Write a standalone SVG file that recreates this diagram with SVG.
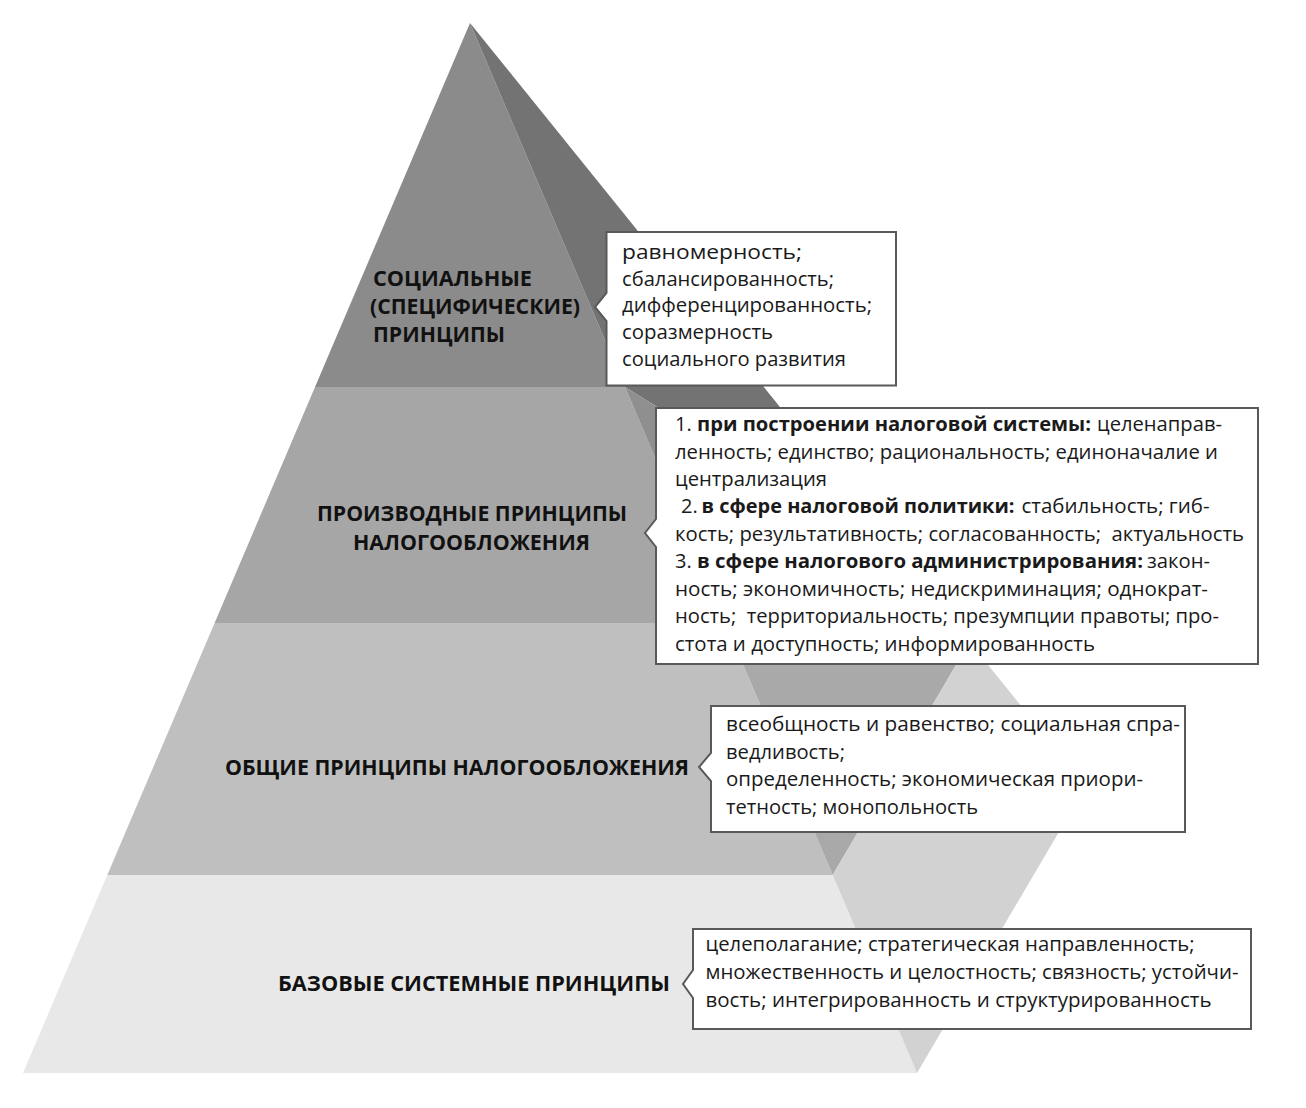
<svg xmlns="http://www.w3.org/2000/svg" width="1306" height="1108" viewBox="0 0 1306 1108">
<style>
  .lbl { font-family: "Open Sans", "Noto Sans", "Liberation Sans", sans-serif; font-weight: 700; font-size: 22px; fill: #111; }
  .t { font-family: "Open Sans", "Noto Sans", "Liberation Sans", sans-serif; font-size: 20px; fill: #1a1a1a; white-space: pre; }
  .b { font-weight: 700; }
  .box { fill: #fff; stroke: #595959; stroke-width: 2; }
</style>
<rect width="1306" height="1108" fill="#fff"/>

<g id="tier1">
  <polygon points="470,23 315,387 625,387" fill="#8b8b8b"/>
  <polygon points="470,23 903.4,560 625,387" fill="#737373"/>
  <text class="lbl" x="373" y="286" textLength="159" lengthAdjust="spacingAndGlyphs">СОЦИАЛЬНЫЕ</text>
  <text class="lbl" x="370" y="314" textLength="210" lengthAdjust="spacingAndGlyphs">(СПЕЦИФИЧЕСКИЕ)</text>
  <text class="lbl" x="373" y="342" textLength="132" lengthAdjust="spacingAndGlyphs">ПРИНЦИПЫ</text>
</g>

<g id="tier2">
  <polygon points="315,387 214.6,623 725.4,623 625,387" fill="#a6a6a6"/>
  <polygon points="625,387 903.4,560 935.6,600 725.4,623" fill="#8f8f8f"/>
  <text class="lbl" x="317" y="521" textLength="310" lengthAdjust="spacingAndGlyphs">ПРОИЗВОДНЫЕ ПРИНЦИПЫ</text>
  <text class="lbl" x="353" y="549.5" textLength="237" lengthAdjust="spacingAndGlyphs">НАЛОГООБЛОЖЕНИЯ</text>
</g>

<g id="tier3">
  <polygon points="214.6,623 107.3,875 832.7,875 725.4,623" fill="#bfbfbf"/>
  <polygon points="725.4,623 935.6,600 969.5,642 832.7,875" fill="#a9a9a9"/>
  <text class="lbl" x="225" y="775" textLength="464" lengthAdjust="spacingAndGlyphs">ОБЩИЕ ПРИНЦИПЫ НАЛОГООБЛОЖЕНИЯ</text>
</g>

<g id="tier4">
  <polygon points="107.3,875 23,1073 917,1073 832.7,875" fill="#e8e8e8"/>
  <polygon points="832.7,875 969.5,642 1086,786 917,1073" fill="#d2d2d2"/>
  <text class="lbl" x="278" y="990.5" textLength="392" lengthAdjust="spacingAndGlyphs">БАЗОВЫЕ СИСТЕМНЫЕ ПРИНЦИПЫ</text>
</g>

<g id="connectors"></g>

<g id="callout1">
  <path class="box" d="M606.5,232 H896 V385.5 H606.5 V321 L595,307 L606.5,293 Z"/>
  <text class="t" x="622" y="259" textLength="180" lengthAdjust="spacingAndGlyphs">равномерность;</text>
  <text class="t" x="622" y="285.7" textLength="212" lengthAdjust="spacingAndGlyphs">сбалансированность;</text>
  <text class="t" x="622" y="312.4" textLength="250" lengthAdjust="spacingAndGlyphs">дифференцированность;</text>
  <text class="t" x="622" y="339" textLength="151" lengthAdjust="spacingAndGlyphs">соразмерность</text>
  <text class="t" x="622" y="365.7" textLength="224" lengthAdjust="spacingAndGlyphs">социального развития</text>
</g>

<g id="callout2">
  <path class="box" d="M656,408 H1258 V664 H656 V547 L645,533 L656,519 Z"/>
  <text class="t" x="675" y="431">1.</text>
  <text class="t b" x="697" y="431" textLength="394" lengthAdjust="spacingAndGlyphs">при построении налоговой системы:</text>
  <text class="t" x="1097" y="431" textLength="125" lengthAdjust="spacingAndGlyphs">целенаправ-</text>
  <text class="t" x="675" y="458.5" textLength="543" lengthAdjust="spacingAndGlyphs">ленность; единство; рациональность; единоначалие и</text>
  <text class="t" x="675" y="486" textLength="152" lengthAdjust="spacingAndGlyphs">централизация</text>
  <text class="t" x="681" y="513.4">2.</text>
  <text class="t b" x="701.5" y="513.4" textLength="313" lengthAdjust="spacingAndGlyphs">в сфере налоговой политики:</text>
  <text class="t" x="1021.5" y="513.4" textLength="188" lengthAdjust="spacingAndGlyphs">стабильность; гиб-</text>
  <text class="t" x="675" y="540.8" textLength="569" lengthAdjust="spacingAndGlyphs">кость; результативность; согласованность;  актуальность</text>
  <text class="t" x="675" y="568.3">3.</text>
  <text class="t b" x="697" y="568.3" textLength="446" lengthAdjust="spacingAndGlyphs">в сфере налогового администрирования:</text>
  <text class="t" x="1147" y="568.3" textLength="63" lengthAdjust="spacingAndGlyphs">закон-</text>
  <text class="t" x="675" y="595.7" textLength="533" lengthAdjust="spacingAndGlyphs">ность; экономичность; недискриминация; однократ-</text>
  <text class="t" x="675" y="623.2" textLength="544" lengthAdjust="spacingAndGlyphs">ность;  территориальность; презумпции правоты; про-</text>
  <text class="t" x="675" y="650.6" textLength="420" lengthAdjust="spacingAndGlyphs">стота и доступность; информированность</text>
</g>

<g id="callout3">
  <path class="box" d="M711,706 H1185 V832 H711 V781 L699,767 L711,753 Z"/>
  <text class="t" x="726" y="731" textLength="454" lengthAdjust="spacingAndGlyphs">всеобщность и равенство; социальная спра-</text>
  <text class="t" x="726" y="758.5" textLength="119" lengthAdjust="spacingAndGlyphs">ведливость;</text>
  <text class="t" x="726" y="786" textLength="417" lengthAdjust="spacingAndGlyphs">определенность; экономическая приори-</text>
  <text class="t" x="726" y="813.5" textLength="252" lengthAdjust="spacingAndGlyphs">тетность; монопольность</text>
</g>

<g id="callout4">
  <path class="box" d="M693,929 H1251 V1029 H693 V998 L683,984 L693,970 Z"/>
  <text class="t" x="705.5" y="951" textLength="489" lengthAdjust="spacingAndGlyphs">целеполагание; стратегическая направленность;</text>
  <text class="t" x="705.5" y="979" textLength="533" lengthAdjust="spacingAndGlyphs">множественность и целостность; связность; устойчи-</text>
  <text class="t" x="705.5" y="1007" textLength="506" lengthAdjust="spacingAndGlyphs">вость; интегрированность и структурированность</text>
</g>
</svg>
